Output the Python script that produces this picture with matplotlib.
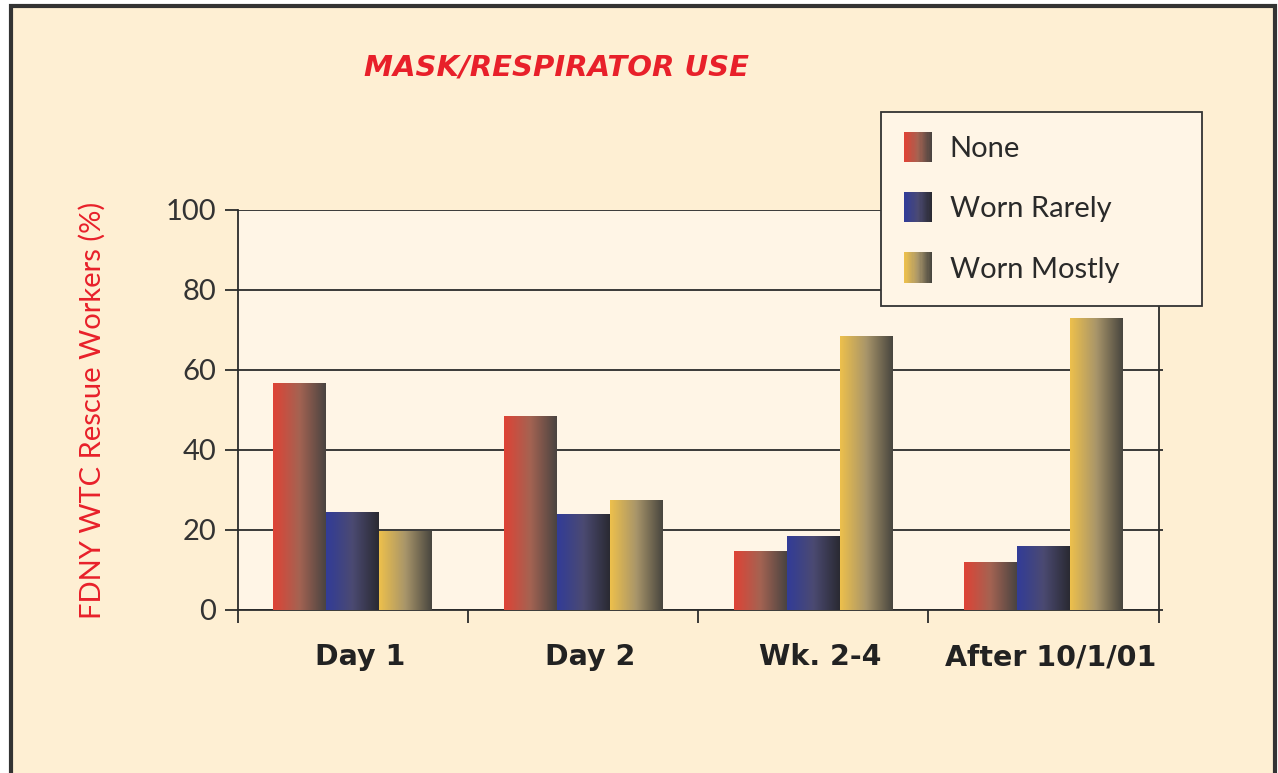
import numpy as np
import matplotlib.pyplot as plt
from matplotlib.patches import Rectangle
from matplotlib.legend_handler import HandlerBase
from matplotlib.colors import LinearSegmentedColormap

plt.rcParams['font.family'] = ['Lato', 'DejaVu Sans']

# data
categories = ['Day 1', 'Day 2', 'Wk. 2-4', 'After 10/1/01']
series = ['None', 'Worn Rarely', 'Worn Mostly']
none_vals = [56.7, 48.5, 14.6, 11.9]
rarely_vals = [24.3, 24.0, 18.5, 15.8]
mostly_vals = [19.7, 27.5, 68.3, 72.9]
yticks = [0, 20, 40, 60, 80, 100]

grads = {
    'None': ['#DF4336', '#A46352', '#4A4441'],
    'Worn Rarely': ['#323C98', '#4B4A72', '#2A2A32'],
    'Worn Mostly': ['#EDC04C', '#A8956A', '#48463F'],
}
cmaps = {k: LinearSegmentedColormap.from_list(k, v) for k, v in grads.items()}

W, H = 1278, 773
fig = plt.figure(figsize=(W / 100, H / 100), dpi=100, facecolor='white')

# outer panel with frame
fig.patches.append(Rectangle((11 / W, -0.05), (1275 - 11) / W, 1 - 6 / H + 0.05,
                             transform=fig.transFigure, facecolor='#FEEFD3',
                             edgecolor='#333333', linewidth=3, zorder=-5))

ax = fig.add_axes([237.7 / W, 1 - 610 / H, (1158.7 - 237.7) / W, 400 / H])
ax.set_facecolor('#FFF5E6')

x = np.arange(len(categories))
bw = 0.23
grad = np.linspace(0, 1, 128).reshape(1, -1)
for i, (name, vals) in enumerate(zip(series, [none_vals, rarely_vals, mostly_vals])):
    bars = ax.bar(x + (i - 1) * bw, vals, bw, color='none', edgecolor='none', zorder=3)
    for b in bars:
        x0, y0 = b.get_x(), b.get_y()
        ax.imshow(grad, cmap=cmaps[name], aspect='auto', zorder=3,
                  extent=(x0, x0 + b.get_width(), y0, y0 + b.get_height()))

ax.set_xlim(-0.5, len(categories) - 0.5)
ax.set_ylim(0, 100)

# grid and spines
ax.set_yticks(yticks)
ax.set_yticklabels([str(v) for v in yticks], fontsize=21, color='#333333')
ax.yaxis.grid(True, color='#2B2B2B', linewidth=1.3, zorder=1)
ax.set_axisbelow(True)
ax.tick_params(axis='y', which='major', direction='out', length=9.5, width=1.3,
               color='#2B2B2B', pad=6, right=True)
ax.tick_params(axis='y', which='major', labelright=False)
ax.spines['top'].set_visible(False)
for side in ['left', 'right', 'bottom']:
    ax.spines[side].set_color('#2B2B2B')
    ax.spines[side].set_linewidth(1.3)

ax.set_xticks(x + 0.03)
ax.set_xticklabels(categories, fontsize=20.5, fontweight='bold', color='#222222',
                   family='DejaVu Sans')
ax.set_xticks(np.arange(len(categories) + 1) - 0.5, minor=True)
ax.tick_params(axis='x', which='major', length=0, pad=24)
ax.tick_params(axis='x', which='minor', direction='out', length=9.5, width=1.3, color='#2B2B2B')

# right side tick stubs are short
for t in ax.yaxis.get_major_ticks():
    t.tick2line.set_markersize(3)


class GradHandler(HandlerBase):
    def create_artists(self, legend, orig_handle, xdescent, ydescent, width, height,
                       fontsize, trans):
        cm = cmaps[orig_handle.get_label()]
        n = 24
        arts = []
        for k in range(n):
            r = Rectangle((-xdescent + width * k / n, -ydescent - height * 0.15), width / n + 0.3,
                          height * 1.3, facecolor=cm(k / (n - 1)), edgecolor='none',
                          transform=trans)
            arts.append(r)
        return arts


handles = [Rectangle((0, 0), 1, 1, label=s) for s in series]
leg = ax.legend(handles=handles, labels=series, loc='upper left',
                bbox_to_anchor=(881 / W, 0.5, 321 / W, 1 - 112 / H - 0.5),
                bbox_transform=fig.transFigure, mode='expand', borderaxespad=0,
                handler_map={Rectangle: GradHandler()}, fontsize=21,
                handlelength=0.95, handleheight=0.85, handletextpad=0.6,
                labelspacing=1.15, borderpad=0.8, fancybox=False, framealpha=1,
                facecolor='#FFF5E6', edgecolor='#333333')
leg.get_frame().set_linewidth(1.3)
for t in leg.get_texts():
    t.set_color('#2A2A2A')

fig.text(556 / W, 1 - 68 / H, 'MASK/RESPIRATOR USE', color='#E8202A', fontsize=21,
         fontweight='bold', fontstyle='italic', ha='center', va='center',
         family='DejaVu Sans')
fig.text(92 / W, 1 - 410 / H, 'FDNY WTC Rescue Workers (%)', color='#E8202A',
         fontsize=21, rotation=90, ha='center', va='center')

fig.savefig('out.png', dpi=100, facecolor=fig.get_facecolor())
